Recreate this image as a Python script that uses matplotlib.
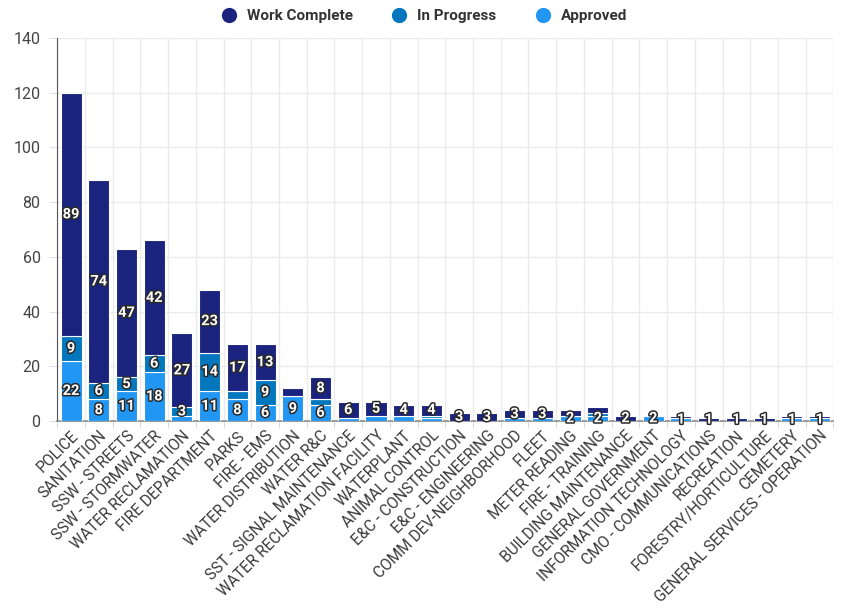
import numpy as np
import matplotlib
matplotlib.use("Agg")
import matplotlib.pyplot as plt
import matplotlib.patheffects as pe
from matplotlib.lines import Line2D

plt.rcParams['font.family'] = ['Roboto', 'DejaVu Sans']

categories = ["POLICE", "SANITATION", "SSW - STREETS", "SSW - STORMWATER",
              "WATER RECLAMATION", "FIRE DEPARTMENT", "PARKS", "FIRE - EMS",
              "WATER DISTRIBUTION", "WATER R&C", "SST - SIGNAL MAINTENANCE",
              "WATER RECLAMATION FACILITY", "WATERPLANT", "ANIMAL CONTROL",
              "E&C - CONSTRUCTION", "E&C - ENGINEERING", "COMM DEV-NEIGHBORHOOD",
              "FLEET", "METER READING", "FIRE - TRAINING", "BUILDING MAINTENANCE",
              "GENERAL GOVERNMENT", "INFORMATION TECHNOLOGY", "CMO - COMMUNICATIONS",
              "RECREATION", "FORESTRY/HORTICULTURE", "CEMETERY",
              "GENERAL SERVICES - OPERATION"]
approved = [22, 8, 11, 18, 2, 11, 8, 6, 9, 6, 1, 2, 2, 1, 0, 0, 1, 1, 2, 2, 0, 2, 1, 0, 0, 0, 1, 1]
in_progress = [9, 6, 5, 6, 3, 14, 3, 9, 0, 2, 0, 0, 0, 1, 0, 0, 0, 0, 0, 1, 0, 0, 0, 0, 0, 0, 0, 0]
work_complete = [89, 74, 47, 42, 27, 23, 17, 13, 3, 8, 6, 5, 4, 4, 3, 3, 3, 3, 2, 2, 2, 0, 1, 1, 1, 1, 1, 1]

series_names = ["Approved", "In Progress", "Work Complete"]
colors = ["#2196f3", "#0277bd", "#1a237e"]

fig = plt.figure(figsize=(8.41, 6.11), dpi=100)
ax = fig.add_axes([0.068, 0.311, 0.923, 0.627])

x = np.arange(len(categories))
series = [np.array(approved), np.array(in_progress), np.array(work_complete)]
bottom = np.zeros(len(categories))
for vals, col, name in zip(series, colors, series_names):
    ax.bar(x, vals, 0.76, bottom=bottom, color=col, edgecolor="white",
           linewidth=0.8, label=name, zorder=3)
    bottom = bottom + vals

# data labels, hide the smaller one when two would overlap
stroke = [pe.withStroke(linewidth=2.2, foreground="#2a2a2a")]
for i in range(len(categories)):
    segs = []
    b = 0
    for vals in series:
        v = vals[i]
        if v > 0:
            segs.append((v, b + v / 2))
        b += v
    placed = []
    for v, yc in sorted(segs, key=lambda s: -s[0]):
        if all(abs(yc - p) >= 6.5 for p in placed):
            placed.append(yc)
            ax.text(i, yc, str(v), ha="center", va="center", color="white",
                    fontsize=10.5, fontweight="bold", path_effects=stroke, zorder=5)

ax.set_xlim(-0.5, len(categories) - 0.5)
ax.set_ylim(0, 140)
ax.set_yticks(np.arange(0, 141, 20))
ax.set_xticks(x)
ax.set_xticklabels(categories, rotation=45, ha="right", rotation_mode="anchor",
                   fontsize=11.2, color="#3a3a3a")
ax.set_xticks(np.arange(-0.5, len(categories), 1), minor=True)
ax.tick_params(axis="x", which="major", length=0, pad=5)
ax.tick_params(axis="x", which="minor", length=5, color="#cfd8e6")
ax.tick_params(axis="y", length=6, color="#dde3ec", labelsize=11.5, labelcolor="#444444", pad=6)

ax.grid(axis="y", color="#ebebeb", linewidth=1, zorder=0)
ax.grid(axis="x", which="minor", color="#ebebeb", linewidth=1, zorder=0)
for s in ["top", "right"]:
    ax.spines[s].set_visible(False)
ax.spines["left"].set_color("#555555")
ax.spines["bottom"].set_color("#8a8a8a")
ax.spines["bottom"].set_linewidth(1.2)

handles = [Line2D([0], [0], marker="o", color="w", markerfacecolor=c, markersize=12)
           for c in colors[::-1]]
fig.legend(handles, series_names[::-1], loc="upper center", bbox_to_anchor=(0.5, 1.008),
           ncol=3, frameon=False, handletextpad=0.2, columnspacing=2.0,
           prop={"size": 11, "weight": "bold"}, labelcolor="#333333")

fig.savefig("out.png", dpi=100)
